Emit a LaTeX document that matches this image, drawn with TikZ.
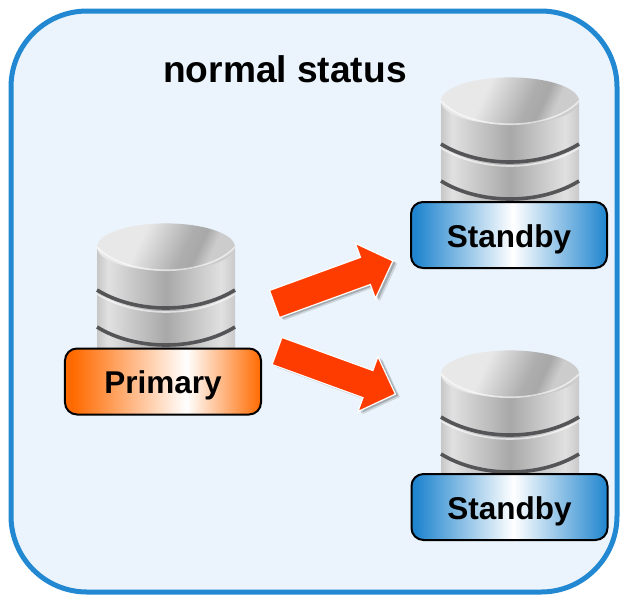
\documentclass[tikz,border=0pt]{standalone}
\usepackage{fontspec}
\setmainfont{Liberation Sans}
\usetikzlibrary{shapes.arrows,shadows}
\definecolor{panelfill}{RGB}{235,244,252}
\definecolor{panelline}{RGB}{35,136,210}
\definecolor{arrowfill}{RGB}{255,60,0}
\definecolor{bandline}{RGB}{85,85,88}
\definecolor{primaryedge}{RGB}{255,106,0}
\definecolor{standbyedge}{RGB}{32,133,206}
\pgfdeclarehorizontalshading{primaryfill}{100bp}{
   color(0bp)=(primaryedge);
   color(27bp)=(primaryedge);
   color(56bp)=(white);
   color(75bp)=(primaryedge);
   color(100bp)=(primaryedge)}
\pgfdeclarehorizontalshading{standbyfill}{100bp}{
   color(0bp)=(standbyedge);
   color(26bp)=(standbyedge);
   color(51bp)=(white);
   color(75bp)=(standbyedge);
   color(100bp)=(standbyedge)}
\pgfdeclarehorizontalshading{dbbody}{100bp}{
   color(0bp)=(black!22);
   color(25bp)=(black!22);
   color(29bp)=(black!12);
   color(50bp)=(black!34);
   color(70bp)=(black!12);
   color(75bp)=(black!21);
   color(100bp)=(black!21)}
\pgfdeclarehorizontalshading{dbtop}{100bp}{
   color(0bp)=(black!9);
   color(38bp)=(black!9);
   color(58bp)=(black!32);
   color(64bp)=(black!34);
   color(70bp)=(black!20);
   color(100bp)=(black!20)}
\tikzset{
   band/.style = {line width=0.9mm, color=bandline},
   bandlight/.style = {line width=0.4mm, color=white, opacity=0.6},
   label/.style = {
      draw=black,
      line width=0.5mm,
      rounded corners=3mm,
      minimum width=49mm,
      minimum height=16.5mm,
      inner sep=0mm,
      text height=6.1mm,
      text depth=0mm,
      font=\bfseries\fontsize{22.4}{26}\selectfont,
   },
   primarylabel/.style = {label, shading=primaryfill},
   standbylabel/.style = {label, shading=standbyfill},
   redarrow/.style = {
      single arrow,
      fill=arrowfill,
      draw=white,
      line width=0.3mm,
      inner xsep=0mm,
      inner ysep=3.46mm,
      outer sep=0mm,
      minimum height=31.5mm,
      single arrow head extend=3.7mm,
      single arrow head indent=0mm,
      general shadow={shadow xshift=1.1mm, shadow yshift=-0.7mm, opacity=0.12, fill=black},
      general shadow={shadow xshift=0.7mm, shadow yshift=-0.4mm, opacity=0.2, fill=black},
   },
   dbstack/.pic = {
      \shade[shading=dbbody] (-69,0) -- (-69,102) -- (69,102) -- (69,0) -- cycle;
      \shade[shading=dbtop, shading angle=-25] (0,0) ellipse (17.25mm and 5.9mm);
      \draw[bandlight] (-69,0) .. controls (-40,31) and (40,31) .. (69,0);
      \draw[bandlight] (-69,47) .. controls (-30,71) and (30,71) .. (69,47);
      \draw[band] (-69,43) .. controls (-30,67) and (30,67) .. (69,43);
      \draw[band] (-69,80) .. controls (-30,104) and (30,104) .. (69,80);
   },
}
\begin{document}
\begin{tikzpicture}[x=0.25mm,y=-0.25mm]

      \useasboundingbox (0,0) rectangle (626,594);

      \draw[draw=panelline, fill=panelfill, line width=1.25mm, rounded corners=19mm]
         (11,11) rectangle (617,592);

      \node[font=\bfseries\fontsize{26.4}{30}\selectfont] (title) at (285,69){normal status};

      \pic at (166,247) {dbstack};
      \pic at (510,101) {dbstack};
      \pic at (510,374) {dbstack};

      \node[primarylabel] (primary)  at (163,381.5){Primary};
      \node[standbylabel] (standbya) at (509,235){Standby};
      \node[standbylabel] (standbyb) at (509.5,507){Standby};

      \node[redarrow, anchor=tail, rotate=20]  (arrowa) at (274.5,304){};
      \node[redarrow, anchor=tail, rotate=-20] (arrowb) at (277,351){};

\end{tikzpicture}
\end{document}
